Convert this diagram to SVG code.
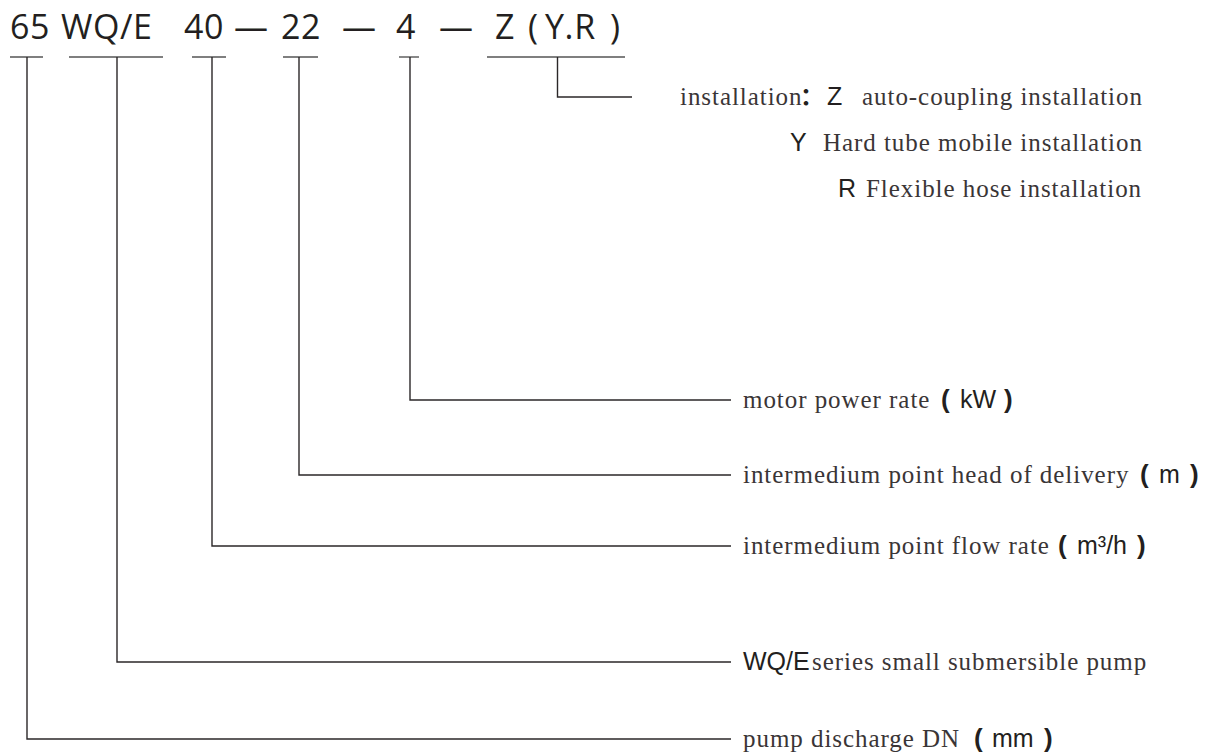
<svg xmlns="http://www.w3.org/2000/svg" width="1215" height="754" viewBox="0 0 1215 754">
<style>
.code{font-family:"Open Sans","Noto Sans",sans-serif;font-size:34px;letter-spacing:0.6px;fill:#231f20}
.lbl{font-family:"Liberation Serif","Times New Roman",serif;font-size:25px;letter-spacing:0.95px;fill:#3a3536}
.sans{font-family:"Liberation Sans",Arial,sans-serif;font-size:25px;letter-spacing:0;fill:#231f20}
.par{font-family:"Liberation Sans",Arial,sans-serif;font-size:26px;font-weight:700;letter-spacing:0;fill:#231f20}
.col{font-family:"Noto Sans CJK SC","Liberation Sans",sans-serif;font-size:24px;font-weight:700;letter-spacing:0;fill:#231f20}
.ln{stroke:#2b2728;stroke-width:1.4;fill:none}
.bar{stroke:#555;stroke-width:1.4;fill:none}
</style>
<rect width="1215" height="754" fill="#fff"/>
<g id="code">
<text class="code" x="10" y="39">65</text>
<text class="code" x="61" y="39">WQ/E</text>
<text class="code" x="184" y="39">40</text>
<text class="code" x="234" y="39">—</text>
<text class="code" x="281" y="39">22</text>
<text class="code" x="342" y="39">—</text>
<text class="code" x="396" y="39">4</text>
<text class="code" x="439" y="39">—</text>
<text class="code" x="495" y="39">Z</text>
<text class="code" x="528" y="39">(</text>
<text class="code" x="545" y="39">Y.R</text>
<text class="code" x="610" y="39">)</text>
</g>
<g id="bars">
<line class="bar" x1="10" y1="57" x2="43" y2="57"/>
<line class="bar" x1="69" y1="57" x2="163" y2="57"/>
<line class="bar" x1="192" y1="57" x2="226" y2="57"/>
<line class="bar" x1="283" y1="57" x2="318" y2="57"/>
<line class="bar" x1="399" y1="57" x2="419" y2="57"/>
<line class="bar" x1="487" y1="57" x2="625" y2="57"/>
</g>
<g id="connectors">
<polyline class="ln" points="27,57 27,739 731,739"/>
<polyline class="ln" points="117,57 117,662 731,662"/>
<polyline class="ln" points="212,57 212,546 731,546"/>
<polyline class="ln" points="299,57 299,475 731,475"/>
<polyline class="ln" points="410,57 410,400 731,400"/>
<polyline class="ln" points="557.5,57 557.5,97 632,97"/>
</g>
<g id="installation">
<text class="lbl" x="680" y="105">installation<tspan class="col" x="800">：</tspan><tspan class="sans" x="827">Z</tspan><tspan x="862">auto-coupling installation</tspan></text>
<text class="lbl" x="790" y="151"><tspan class="sans">Y</tspan><tspan x="823">Hard tube mobile installation</tspan></text>
<text class="lbl" x="838" y="197"><tspan class="sans">R</tspan><tspan x="866">Flexible hose installation</tspan></text>
</g>
<g id="motor">
<text class="lbl" x="743" y="408">motor power rate<tspan class="par" x="941">(</tspan><tspan class="sans" x="960">kW</tspan><tspan class="par" x="1004">)</tspan></text>
</g>
<g id="head">
<text class="lbl" x="743" y="483">intermedium point head of delivery<tspan class="par" x="1140">(</tspan><tspan class="sans" x="1159">m</tspan><tspan class="par" x="1190">)</tspan></text>
</g>
<g id="flow">
<text class="lbl" x="743" y="554">intermedium point flow rate<tspan class="par" x="1058">(</tspan><tspan class="sans" x="1077">m³/h</tspan><tspan class="par" x="1137">)</tspan></text>
</g>
<g id="series">
<text class="lbl" x="743" y="670"><tspan class="sans">WQ/E</tspan><tspan x="812">series small submersible pump</tspan></text>
</g>
<g id="dn">
<text class="lbl" x="743" y="747">pump discharge DN<tspan class="par" x="974">(</tspan><tspan class="sans" x="992">mm</tspan><tspan class="par" x="1044">)</tspan></text>
</g>
</svg>
